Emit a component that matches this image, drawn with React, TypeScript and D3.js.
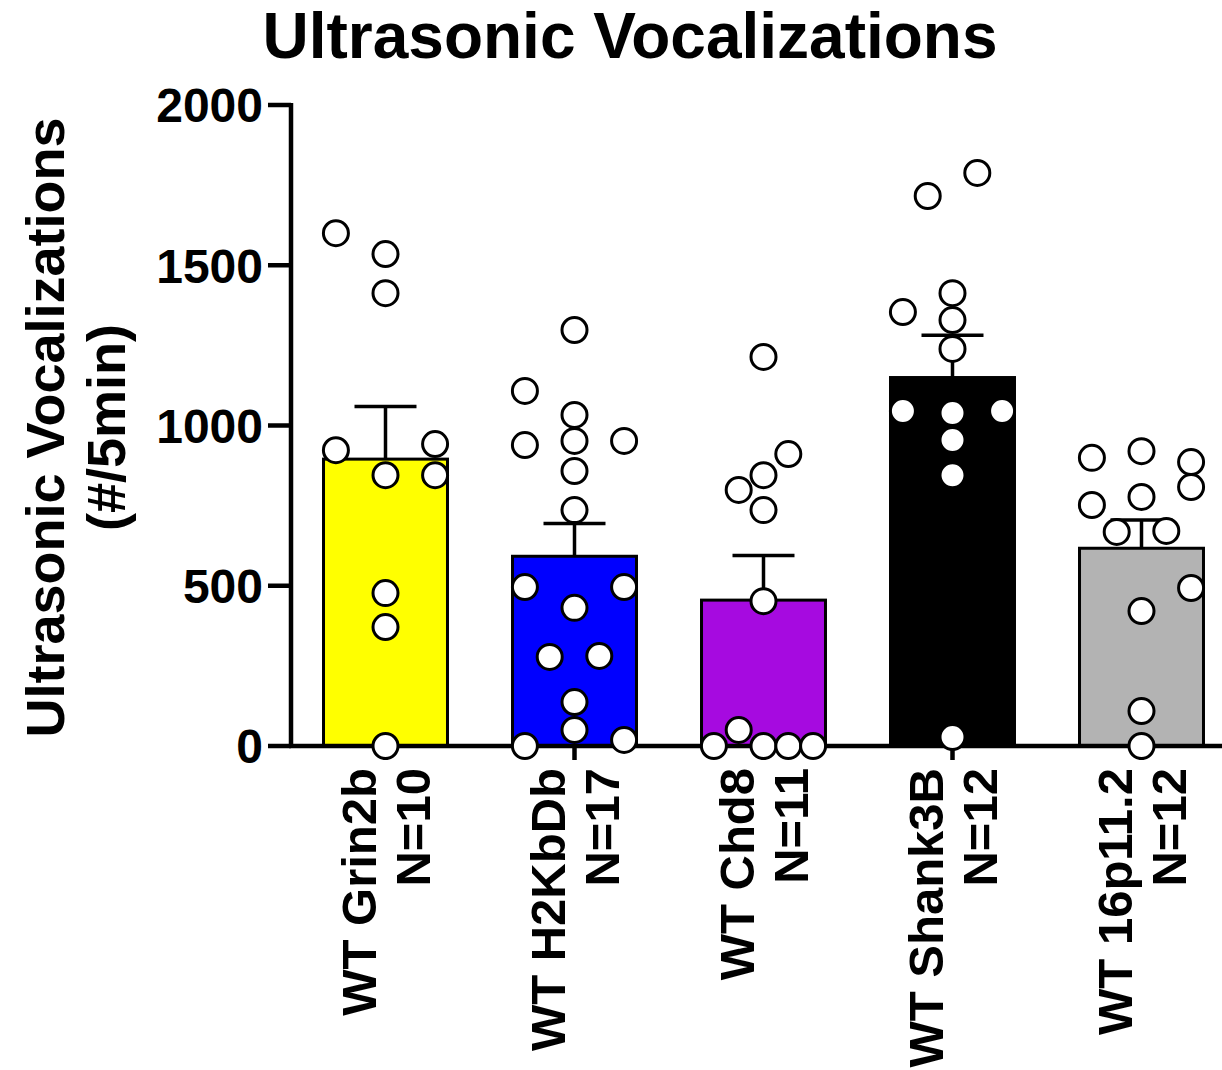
import React, { useEffect, useRef } from "react";
import * as d3 from "d3";

const groups = ["WT Grin2b", "WT H2KbDb", "WT Chd8", "WT Shank3B", "WT 16p11.2"];
const groupN = ["N=10", "N=17", "N=11", "N=12", "N=12"];
const barColors = ["#ffff00", "#0000ff", "#a60ae0", "#000000", "#b3b3b3"];

// individual animals
const grin2b = [1600, 1535, 1413, 923, 942, 845, 845, 477, 371, 0];
const h2kbdb = [1298, 1108, 1033, 939, 952, 952, 858, 736, 496, 496, 431, 278, 281, 137, 50, 0, 19];
const chd8 = [1214, 911, 845, 799, 736, 452, 50, 0, 0, 0, 0];
const shank3b = [1788, 1716, 1354, 1413, 1329, 1239, 1045, 1039, 1045, 955, 845, 28];
const p16p112 = [899, 920, 886, 808, 752, 777, 668, 671, 493, 421, 109, 0];

// horizontal scatter slot for each point (Prism-style column scatter)
const grin2bSlots = [-2, 0, 0, -2, 2, 0, 2, 0, 0, 0];
const h2kbdbSlots = [0, -2, 0, -2, 0, 2, 0, 0, -2, 2, 0, -1, 1, 0, 0, -2, 2];
const chd8Slots = [0, 1, 0, -1, 0, 0, -1, -2, 0, 1, 2];
const shank3bSlots = [1, -1, -2, 0, 0, 0, -2, 0, 2, 0, 0, 0];
const p16p112Slots = [-2, 0, 2, 2, -2, 0, -1, 1, 2, 0, 0, 0];

const yTicks = [0, 500, 1000, 1500, 2000];

const values = [grin2b, h2kbdb, chd8, shank3b, p16p112];
const slots = [grin2bSlots, h2kbdbSlots, chd8Slots, shank3bSlots, p16p112Slots];

const FONT = "'Liberation Sans', Arial, sans-serif";

function Chart() {
  const ref = useRef<SVGSVGElement | null>(null);

  useEffect(() => {
    const width = 1222;
    const margin = { top: 105, left: 291, bottom: 746 };

    const svg = d3.select(ref.current);
    svg.selectAll("*").remove();

    const x = d3
      .scaleBand()
      .domain(groups)
      .range([margin.left, margin.left + 5 * 189])
      .paddingInner(0.344)
      .paddingOuter(0.172);

    const y = d3
      .scaleLinear()
      .domain([0, 2000])
      .range([margin.bottom, margin.top]);

    const stats = values.map(v => {
      const mean = d3.mean(v) as number;
      const sem = (d3.deviation(v) as number) / Math.sqrt(v.length);
      return { mean, sem };
    });

    // title
    svg
      .append("text")
      .attr("x", 630)
      .attr("y", 58)
      .attr("text-anchor", "middle")
      .attr("font-family", FONT)
      .attr("font-weight", "bold")
      .attr("font-size", 64)
      .text("Ultrasonic Vocalizations");

    // y label
    const yl = svg
      .append("text")
      .attr("transform", `translate(0,${(margin.top + margin.bottom) / 2 + 2}) rotate(-90)`)
      .attr("text-anchor", "middle")
      .attr("font-family", FONT)
      .attr("font-weight", "bold")
      .attr("font-size", 54);
    yl.append("tspan").attr("x", 0).attr("y", 64).text("Ultrasonic Vocalizations");
    yl.append("tspan").attr("x", 0).attr("y", 125).text("(#/5min)");

    // bars
    const bw = x.bandwidth();
    svg
      .append("g")
      .selectAll("rect")
      .data(groups)
      .join("rect")
      .attr("x", d => x(d) as number)
      .attr("y", (d, i) => y(stats[i].mean))
      .attr("width", bw)
      .attr("height", (d, i) => y(0) - y(stats[i].mean))
      .attr("fill", (d, i) => barColors[i])
      .attr("stroke", "#000")
      .attr("stroke-width", 3);

    // error bars (mean + SEM)
    const eb = svg
      .append("g")
      .attr("stroke", "#000")
      .attr("stroke-width", 3.5)
      .selectAll("g")
      .data(groups)
      .join("g");
    eb.append("line")
      .attr("x1", d => (x(d) as number) + bw / 2)
      .attr("x2", d => (x(d) as number) + bw / 2)
      .attr("y1", (d, i) => y(stats[i].mean))
      .attr("y2", (d, i) => y(stats[i].mean + stats[i].sem));
    eb.append("line")
      .attr("x1", d => (x(d) as number) + bw / 4)
      .attr("x2", d => (x(d) as number) + (3 * bw) / 4)
      .attr("y1", (d, i) => y(stats[i].mean + stats[i].sem))
      .attr("y2", (d, i) => y(stats[i].mean + stats[i].sem));

    // axes
    const axes = svg.append("g").attr("stroke", "#000").attr("stroke-width", 4.5);
    axes
      .append("line")
      .attr("x1", margin.left)
      .attr("x2", margin.left)
      .attr("y1", y(2000) - 2)
      .attr("y2", y(0) + 2);
    axes
      .append("line")
      .attr("x1", margin.left - 2)
      .attr("x2", width)
      .attr("y1", y(0))
      .attr("y2", y(0));
    axes
      .selectAll(".ytick")
      .data(yTicks)
      .join("line")
      .attr("x1", margin.left - 23)
      .attr("x2", margin.left)
      .attr("y1", d => y(d))
      .attr("y2", d => y(d));
    axes
      .selectAll(".xtick")
      .data(groups)
      .join("line")
      .attr("x1", d => (x(d) as number) + bw / 2)
      .attr("x2", d => (x(d) as number) + bw / 2)
      .attr("y1", y(0))
      .attr("y2", y(0) + 14);

    // scatter points
    const slotW = bw * 0.2;
    const pts = values.flatMap((v, gi) =>
      v.map((val, j) => ({ g: groups[gi], val, slot: slots[gi][j] }))
    );
    svg
      .append("g")
      .selectAll("circle")
      .data(pts)
      .join("circle")
      .attr("cx", d => (x(d.g) as number) + bw / 2 + d.slot * slotW)
      .attr("cy", d => y(d.val))
      .attr("r", 12.5)
      .attr("fill", "#fff")
      .attr("stroke", "#000")
      .attr("stroke-width", 3);

    // y tick labels
    svg
      .append("g")
      .attr("font-family", FONT)
      .attr("font-weight", "bold")
      .attr("font-size", 48)
      .attr("text-anchor", "end")
      .selectAll("text")
      .data(yTicks)
      .join("text")
      .attr("x", margin.left - 28)
      .attr("y", d => y(d))
      .attr("dy", "0.36em")
      .text(d => d);

    // x category labels, rotated
    const xl = svg
      .append("g")
      .attr("font-family", FONT)
      .attr("font-weight", "bold")
      .attr("font-size", 49)
      .selectAll("text")
      .data(groups)
      .join("text")
      .attr(
        "transform",
        d => `translate(${(x(d) as number) + bw / 2},${y(0) + 22}) rotate(-90)`
      )
      .attr("text-anchor", "end");
    xl.append("tspan").attr("x", 0).attr("y", -10).text(d => d);
    xl.append("tspan").attr("x", 0).attr("y", 44).text((d, i) => groupN[i]);
  }, []);

  return (
    <svg
      ref={ref}
      width={1222}
      height={1070}
      style={{ position: "absolute", left: 0, top: 0, background: "#fff" }}
    />
  );
}

export default function App() {
  return <Chart />;
}
